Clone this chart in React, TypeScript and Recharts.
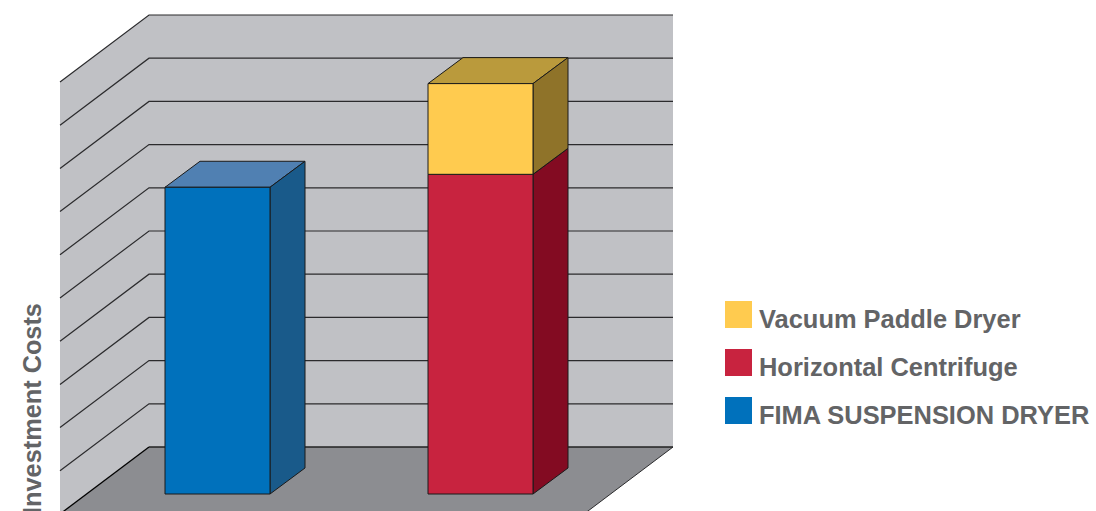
import { Bar, BarChart, CartesianGrid, Legend, XAxis, YAxis } from "recharts";

const categories = ["FIMA system", "Conventional system"];
const fimaSuspensionDryer = [7.1, null];
const horizontalCentrifuge = [null, 7.4];
const vacuumPaddleDryer = [null, 2.1];
const gridTicks = [1, 2, 3, 4, 5, 6, 7, 8, 9, 10];

const data = categories.map((name, i) => ({
  name,
  fima: fimaSuspensionDryer[i],
  centrifuge: horizontalCentrifuge[i],
  vacuum: vacuumPaddleDryer[i],
}));

const TEXT_COLOR = "#636466";
const FONT = '"Liberation Sans", Arial, sans-serif';
const LINE_COLOR = "#2b2b2d";

const WALL = "#c0c1c5";
const FLOOR = "#8c8d91";

// the walls sit behind the plane the bars stand in
const BACK_DY = 47;
const SIDE_DX = 89;
const SIDE_DY = 67;
const BAR_DX = 35;
const BAR_DY = 26;
const WALL_RIGHT = 673;
const WALL_LEFT = 149;
const WALL_HEIGHT = 432;

function wallShape(props: any) {
  const top = props.y1 - BACK_DY;
  const bottom = top + WALL_HEIGHT;
  return (
    <g key={props.key}>
      <polygon
        points={`${WALL_LEFT},${top} ${WALL_RIGHT},${top} ${WALL_RIGHT},${bottom} ${WALL_LEFT},${bottom}`}
        fill={WALL}
      />
      <polygon
        points={`${WALL_LEFT},${top} ${WALL_LEFT - SIDE_DX},${top + SIDE_DY} ${WALL_LEFT - SIDE_DX},${bottom + SIDE_DY} ${WALL_LEFT},${bottom}`}
        fill={WALL}
      />
      <polygon
        points={`${WALL_LEFT},${bottom} ${WALL_RIGHT},${bottom} ${WALL_RIGHT - SIDE_DX},${bottom + SIDE_DY} ${WALL_LEFT - SIDE_DX},${bottom + SIDE_DY}`}
        fill={FLOOR}
      />
      <line
        x1={WALL_RIGHT}
        y1={bottom}
        x2={WALL_RIGHT - SIDE_DX}
        y2={bottom + SIDE_DY}
        stroke={LINE_COLOR}
        strokeWidth={1}
      />
      <line
        x1={WALL_LEFT}
        y1={bottom}
        x2={WALL_LEFT - SIDE_DX}
        y2={bottom + SIDE_DY}
        stroke="#000"
        strokeWidth={1.3}
      />
      <line x1={WALL_LEFT} y1={bottom} x2={WALL_RIGHT} y2={bottom} stroke="#222" strokeWidth={1.6} />
    </g>
  );
}

function gridLine(props: any) {
  const y = props.y1 - BACK_DY;
  return (
    <polyline
      key={props.key}
      points={`${WALL_LEFT - SIDE_DX},${y + SIDE_DY} ${WALL_LEFT},${y} ${WALL_RIGHT},${y}`}
      fill="none"
      stroke={LINE_COLOR}
      strokeWidth={1.2}
    />
  );
}

function box(side: string, top: string) {
  return (props: any) => {
    const { x, y, width, height, fill } = props;
    if (!height) return <g />;
    const r = x + width;
    const b = y + height;
    return (
      <g stroke="#1a1a1a" strokeWidth={1} strokeLinejoin="round">
        <polygon
          points={`${x},${y} ${x + BAR_DX},${y - BAR_DY} ${r + BAR_DX},${y - BAR_DY} ${r},${y}`}
          fill={top}
        />
        <polygon
          points={`${r},${y} ${r + BAR_DX},${y - BAR_DY} ${r + BAR_DX},${b - BAR_DY} ${r},${b}`}
          fill={side}
        />
        <rect x={x} y={y} width={width} height={height} fill={fill} />
      </g>
    );
  };
}

function LegendList({ payload }: any) {
  const items = [...(payload ?? [])].reverse();
  return (
    <div>
      {items.map((item: any) => (
        <div key={item.value} style={{ display: "flex", alignItems: "center", height: 48 }}>
          <div style={{ width: 27, height: 27, background: item.color, marginTop: -2 }} />
          <span
            style={{
              marginLeft: 7,
              marginTop: 8,
              fontFamily: FONT,
              fontWeight: 700,
              fontSize: 25.45,
              color: TEXT_COLOR,
              whiteSpace: "nowrap",
            }}
          >
            {item.value}
          </span>
        </div>
      ))}
    </div>
  );
}

export default function App() {
  return (
    <div style={{ position: "absolute", left: 0, top: 0, width: 1096, height: 511, background: "#fff" }}>
      <BarChart
        width={1096}
        height={511}
        data={data}
        barSize={105}
        margin={{ top: 62, right: 484, left: 0, bottom: 17 }}
      >
        <CartesianGrid horizontalValues={[10]} vertical={false} horizontal={wallShape} />
        <CartesianGrid horizontalValues={gridTicks} vertical={false} horizontal={gridLine} />
        <XAxis dataKey="name" hide />
        <YAxis
          width={86}
          domain={[0, 10]}
          ticks={gridTicks}
          tick={() => <g />}
          axisLine={false}
          tickLine={false}
          label={() => (
            <text
              transform="translate(41,408.5) rotate(-90)"
              textAnchor="middle"
              fontFamily={FONT}
              fontWeight={700}
              fontSize={25.3}
              fill={TEXT_COLOR}
            >
              Investment Costs
            </text>
          )}
        />
        <Legend
          layout="vertical"
          align="center"
          verticalAlign="middle"
          content={LegendList}
          wrapperStyle={{ left: 725, top: 291, width: 371 }}
        />
        <Bar
          dataKey="fima"
          name="FIMA SUSPENSION DRYER"
          stackId="a"
          fill="#0071bc"
          isAnimationActive={false}
          shape={box("#195a8a", "#5080b2")}
        />
        <Bar
          dataKey="centrifuge"
          name="Horizontal Centrifuge"
          stackId="a"
          fill="#c8233f"
          isAnimationActive={false}
          shape={box("#830b22", "#830b22")}
        />
        <Bar
          dataKey="vacuum"
          name="Vacuum Paddle Dryer"
          stackId="a"
          fill="#ffcb4f"
          isAnimationActive={false}
          shape={box("#8f7329", "#ba9a3c")}
        />
      </BarChart>
    </div>
  );
}
